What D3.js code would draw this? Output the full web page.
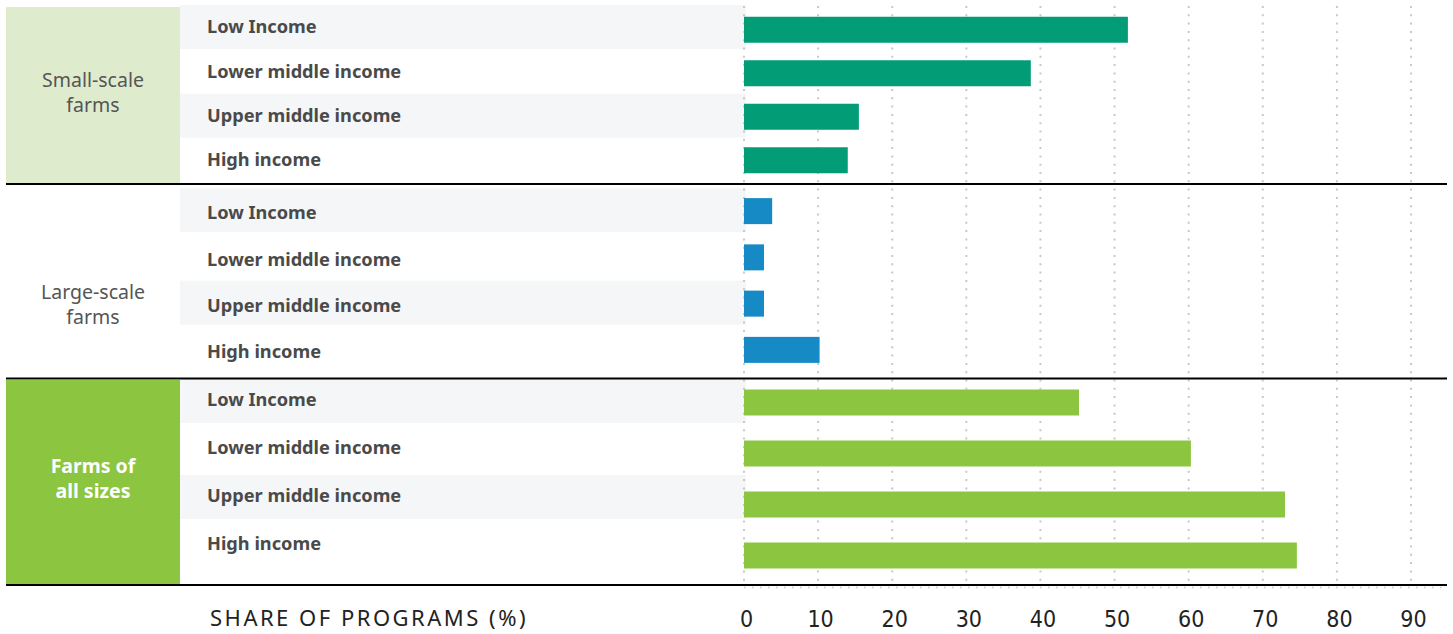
<!DOCTYPE html>
<html><head><meta charset="utf-8">
<script src="https://cdn.jsdelivr.net/npm/d3@7"></script>
<style>
html,body{margin:0;padding:0;background:#fff;}
svg{display:block;}
</style></head>
<body>
<svg id="chart" width="1453" height="634"></svg>
<script>
// ---- data ----
const incomeGroups = ["Low Income", "Lower middle income", "Upper middle income", "High income"];
const sectionNames = ["Small-scale farms", "Large-scale farms", "Farms of all sizes"];
const smallScale = [51.8, 38.7, 15.5, 14.0];
const largeScale = [3.8, 2.7, 2.7, 10.2];
const allSizes = [45.2, 60.3, 73.0, 74.6];
const tickValues = [0, 10, 20, 30, 40, 50, 60, 70, 80, 90];
const axisTitle = "SHARE OF PROGRAMS (%)";

// ---- styling / layout ----
const sectionValues = [smallScale, largeScale, allSizes];
const sectionStyle = [
  {bar: "#029d76", panel: "#dfebcd", labelColor: "#555", weight: 400, lines: ["Small-scale", "farms"], range: [8, 182], labelRange: [5, 182], bgDy: -22, top: 7, bottom: 183, labelDy: -2},
  {bar: "#168ac5", panel: null, labelColor: "#555", weight: 400, lines: ["Large-scale", "farms"], range: [188, 373], labelRange: [190, 375], bgDy: -25, top: 185, bottom: 378, labelDy: 23},
  {bar: "#8cc540", panel: "#8cc540", labelColor: "#fff", weight: 700, lines: ["Farms of", "all sizes"], range: [377, 581], labelRange: [376, 568], bgDy: -21, top: 380, bottom: 584, labelDy: -3}
];
const svg = d3.select("#chart");
const x = d3.scaleLinear().domain([0, 90]).range([744, 1411]);

const gBg = svg.append("g");
const gGrid = svg.append("g");
const gBars = svg.append("g");
const gText = svg.append("g");

sectionNames.forEach((name, si) => {
  const st = sectionStyle[si];
  const y = d3.scaleBand().domain(incomeGroups).range(st.range);
  const yl = d3.scaleBand().domain(incomeGroups).range(st.labelRange);
  // left panel
  if (st.panel) {
    gBg.append("rect").attr("x", 6).attr("y", st.top).attr("width", 174).attr("height", st.bottom - st.top).attr("fill", st.panel);
  }
  // row backgrounds
  incomeGroups.forEach((g, i) => {
    if (i % 2 === 0) {
      gBg.append("rect").attr("x", 180).attr("y", yl(g) + yl.bandwidth() / 2 + st.bgDy)
        .attr("width", 566).attr("height", 44).attr("fill", "#f5f6f8");
    }
  });
  // panel label
  const cy = (st.top + st.bottom) / 2 + st.labelDy;
  const t = gText.append("text").attr("x", 93).attr("y", cy).attr("text-anchor", "middle")
    .attr("font-family", "'Noto Sans', 'Open Sans', sans-serif").attr("font-size", 19.5)
    .attr("font-weight", st.weight).attr("fill", st.labelColor);
  st.lines.forEach((l, li) => {
    t.append("tspan").attr("x", 93).attr("y", cy + (li - 0.5) * 25).attr("dy", "0.35em").text(l);
  });
  // row labels
  gText.selectAll(null).data(incomeGroups).enter().append("text")
    .attr("x", 207).attr("y", d => yl(d) + yl.bandwidth() / 2).attr("dy", "0.35em")
    .attr("font-family", "'Noto Sans', 'Open Sans', sans-serif").attr("font-size", 18.2)
    .attr("font-weight", 700).attr("fill", "#4a4a4a").text(d => d);
  // bars
  gBars.selectAll(null).data(sectionValues[si]).enter().append("rect")
    .attr("x", x(0)).attr("y", (d, i) => y(incomeGroups[i]) + y.bandwidth() / 2 - 13)
    .attr("width", d => x(d) - x(0)).attr("height", 26).attr("fill", st.bar);
});

// gridlines
gGrid.selectAll(null).data(tickValues).enter().append("line")
  .attr("x1", d => x(d)).attr("x2", d => x(d)).attr("y1", 6).attr("y2", 586)
  .attr("stroke", "#c8c8c8").attr("stroke-width", 2).attr("stroke-dasharray", "2,6.3");

// section divider lines
[184, 378.5, 585].forEach(yy => {
  svg.append("line").attr("x1", 6).attr("x2", 1447).attr("y1", yy).attr("y2", yy)
    .attr("stroke", "#000").attr("stroke-width", 2.2);
});
// dotted line under the axis line
svg.append("line").attr("x1", 744).attr("x2", 1447).attr("y1", 587.5).attr("y2", 587.5)
  .attr("stroke", "#c8c8c8").attr("stroke-width", 1.5).attr("stroke-dasharray", "1.5,6.5");

// axis
const axis = d3.axisBottom(x).tickValues(tickValues).tickSize(0).tickPadding(0);
const ga = svg.append("g").attr("transform", "translate(2,627)").call(axis);
ga.select(".domain").remove();
ga.selectAll("text").attr("font-family", "'Liberation Sans Narrow', 'DejaVu Sans Condensed', sans-serif")
  .attr("font-size", 23).attr("fill", "#222").attr("dy", 0);

svg.append("text").attr("x", 210).attr("y", 626).attr("font-family", "'Noto Sans', 'Open Sans', sans-serif")
  .attr("font-size", 22).attr("letter-spacing", 2.5).attr("fill", "#222").text(axisTitle);
</script>
</body></html>
